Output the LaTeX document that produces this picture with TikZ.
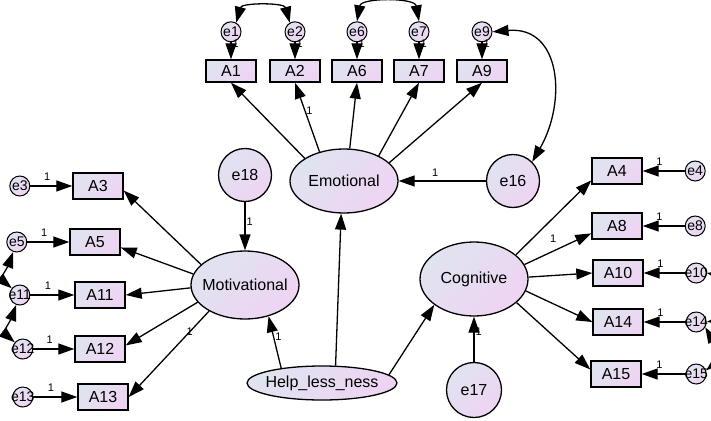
\documentclass[tikz,border=0pt]{standalone}
\usepackage{fontspec}
\setmainfont{Liberation Sans}
\usepackage{xcolor}
\usetikzlibrary{shapes,arrows.meta,positioning,calc}

\definecolor{amosblue}{RGB}{224,227,240}
\definecolor{amospink}{RGB}{238,212,243}
\newcommand{\errlbl}[1]{\makebox[0pt]{e#1}}
\newcommand{\latlbl}[1]{\makebox[0pt]{#1}}

\begin{document}
\begin{tikzpicture}[
    x=1pt, y=1pt,
    amosfill/.style={top color=amosblue, bottom color=amospink, shading angle=45},
    itembox/.style={draw, line width=1.4pt, amosfill, minimum width=50pt, minimum height=26pt, inner sep=0pt, font=\fontsize{16}{16}\selectfont},
    topbox/.style={itembox, minimum height=22pt},
    latent/.style={ellipse, draw, line width=1.3pt, amosfill, inner sep=0pt, font=\fontsize{16}{16}\selectfont},
    bigerr/.style={circle, draw, line width=1.3pt, amosfill, minimum size=53pt, inner sep=0pt, font=\fontsize{16}{16}\selectfont},
    smallerr/.style={circle, draw, line width=1pt, amosfill, minimum size=20pt, inner sep=0pt, font=\fontsize{14}{14}\selectfont},
    wt/.style={font=\fontsize{11}{11}\selectfont, inner sep=1pt},
    regarrow/.style={->, >={Triangle[length=16pt, width=11pt]}, line width=1.3pt},
    covarrow/.style={<->, >={Triangle[length=16pt, width=11pt]}, line width=1.3pt}
]
    \useasboundingbox (0,0) rectangle (711,-420);

    % latent factors
    \node[latent, minimum width=108pt, minimum height=64pt] (emot) at (344,-181) {\latlbl{Emotional}};
    \node[latent, minimum width=108pt, minimum height=68pt] (motiv) at (245,-285) {\latlbl{Motivational}};
    \node[latent, minimum width=108pt, minimum height=74pt] (cogn) at (474,-279) {\latlbl{Cognitive}};
    \node[latent, minimum width=150pt, minimum height=34pt] (help) at (322,-383) {\latlbl{Help\_less\_ness}};

    \node[bigerr] (e16) at (513,-181) {e16};
    \node[bigerr] (e18) at (245,-175) {e18};
    \node[bigerr, minimum size=55pt] (e17) at (474,-390) {e17};

    % emotional items
    \node[topbox] (a1) at (231,-71) {A1};
    \node[topbox] (a2) at (295,-71) {A2};
    \node[topbox] (a6) at (357,-71) {A6};
    \node[topbox] (a7) at (419,-71) {A7};
    \node[topbox] (a9) at (482,-71) {A9};
    \node[smallerr, above=17pt of a1] (e1) {\errlbl{1}};
    \node[smallerr, above=17pt of a2] (e2) {\errlbl{2}};
    \node[smallerr, above=17pt of a6] (e6) {\errlbl{6}};
    \node[smallerr, above=17pt of a7] (e7) {\errlbl{7}};
    \node[smallerr, above=17pt of a9] (e9) {\errlbl{9}};

    % motivational items
    \node[itembox] (a3) at (98,-186) {A3};
    \node[itembox] (a5) at (95,-242) {A5};
    \node[itembox] (a11) at (100,-295) {A11};
    \node[itembox] (a12) at (100,-349) {A12};
    \node[itembox] (a13) at (103,-397) {A13};
    \node[smallerr, left=42pt of a3] (e3) {\errlbl{3}};
    \node[smallerr, left=42pt of a5] (e5) {\errlbl{5}};
    \node[smallerr, left=44pt of a11] (e11) {\errlbl{11}};
    \node[smallerr, left=41pt of a12] (e12) {\errlbl{12}};
    \node[smallerr, left=44pt of a13] (e13) {\errlbl{13}};

    % cognitive items
    \node[itembox] (a4) at (617,-171) {A4};
    \node[itembox] (a8) at (617,-226) {A8};
    \node[itembox] (a10) at (618,-273) {A10};
    \node[itembox] (a14) at (618,-322) {A14};
    \node[itembox] (a15) at (616,-374) {A15};
    \node[smallerr, right=42pt of a4] (e4) {\errlbl{4}};
    \node[smallerr, right=42pt of a8] (e8) {\errlbl{8}};
    \node[smallerr, right=42pt of a10] (e10) {\errlbl{10}};
    \node[smallerr, right=42pt of a14] (e14) {\errlbl{14}};
    \node[smallerr, right=44pt of a15] (e15) {\errlbl{15}};

    % structural paths
    \draw[regarrow] (help.160) -- (motiv.-53) node[wt, pos=0.6, right] {1};
    \draw[regarrow] (help.52) -- (emot.-95);
    \draw[regarrow] (help.7) -- (cogn.213);
    \draw[regarrow] (e16) -- (emot) node[wt, pos=0.58, above=3pt] {1};
    \draw[regarrow] (e18) -- (motiv) node[wt, pos=0.4, right] {1};
    \draw[regarrow] (e17) -- (cogn) node[wt, pos=0.66, right] {1};

    % loadings
    \draw[regarrow] (emot.150) -- (a1.south);
    \draw[regarrow] (emot.130) -- (a2.south) node[wt, pos=0.6, right] {1};
    \draw[regarrow] (emot.80) -- (a6.south);
    \draw[regarrow] (emot.36) -- (a7.south);
    \draw[regarrow] (emot.22) -- (a9.south);

    \draw[regarrow] (motiv.155) -- (a3.-10);
    \draw[regarrow] (motiv.168) -- (a5.-12);
    \draw[regarrow] (motiv.183) -- (a11.east);
    \draw[regarrow] (motiv.200) -- (a12.8);
    \draw[regarrow] (motiv.216) -- (a13.east) node[wt, pos=0.3, above right] {1};

    \draw[regarrow] (cogn.30) -- (a4.200);
    \draw[regarrow] (cogn.16) -- (a8.196) node[wt, pos=0.43, above=7pt] {1};
    \draw[regarrow] (cogn.2) -- (a10.west);
    \draw[regarrow] (cogn.-13) -- (a14.west);
    \draw[regarrow] (cogn.-29) -- (a15.170);

    % error terms
    \draw[regarrow] (e1) -- (a1) node[wt, pos=0.1, right] {1};
    \draw[regarrow] (e2) -- (a2) node[wt, pos=0.1, right] {1};
    \draw[regarrow] (e6) -- (a6) node[wt, pos=0.1, right] {1};
    \draw[regarrow] (e7) -- (a7) node[wt, pos=0.1, right] {1};
    \draw[regarrow] (e9) -- (a9) node[wt, pos=0.1, right] {1};

    \draw[regarrow] (e3) -- (a3) node[wt, pos=0.4, above=4pt] {1};
    \draw[regarrow] (e5) -- (a5) node[wt, pos=0.4, above=4pt] {1};
    \draw[regarrow] (e11) -- (a11) node[wt, pos=0.4, above=4pt] {1};
    \draw[regarrow] (e12) -- (a12) node[wt, pos=0.4, above=4pt] {1};
    \draw[regarrow] (e13) -- (a13) node[wt, pos=0.4, above=4pt] {1};

    \draw[regarrow] (e4) -- (a4) node[wt, pos=0.6, above=4pt] {1};
    \draw[regarrow] (e8) -- (a8) node[wt, pos=0.6, above=4pt] {1};
    \draw[regarrow] (e10) -- (a10) node[wt, pos=0.6, above=4pt] {1};
    \draw[regarrow] (e14) -- (a14) node[wt, pos=0.6, above=4pt] {1};
    \draw[regarrow] (e15) -- (a15) node[wt, pos=0.6, above=4pt] {1};

    % covariances
    \draw[covarrow] (e1.60) to[out=75, in=105] (e2.120);
    \draw[covarrow] (e6.north) to[out=80, in=100] (e7.north);
    \draw[covarrow] (e9.east) to[out=5, in=60, looseness=1.3] (e16.45);
    \draw[covarrow] (e5.250) to[out=250, in=140] (e11.140);
    \draw[covarrow] (e11.250) to[out=250, in=140] (e12.140);
    \draw[covarrow] (e10.east) to[out=-10, in=10] (e14.east);
    \draw[covarrow] (e14.-30) to[out=-60, in=40] (e15.20);
\end{tikzpicture}
\end{document}
